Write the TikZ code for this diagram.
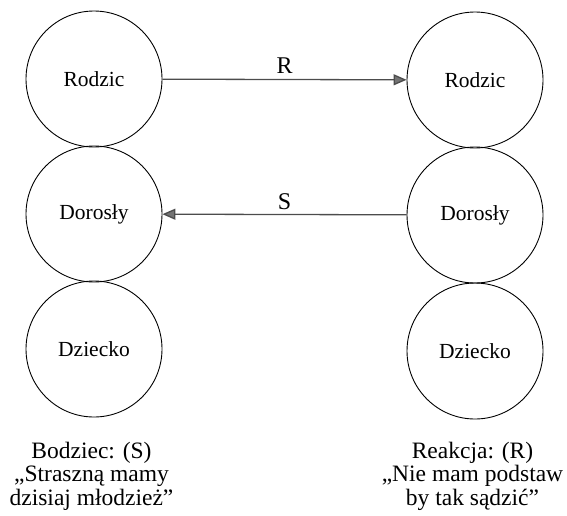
\documentclass[tikz,border=0pt]{standalone}
\usepackage{fontspec}
\setmainfont{Liberation Serif}
\usetikzlibrary{arrows.meta}
\begin{document}
\begin{tikzpicture}[x=1pt,y=-1pt,
  state/.style={circle,draw,line width=0.9pt,minimum size=136pt,inner sep=0pt,
    font=\fontsize{21.5}{24}\selectfont},
  link/.style={draw=black!70,line width=1.3pt,-{Triangle[length=13pt,width=11pt,fill=black!55]}},
  arrowlabel/.style={inner sep=0pt,font=\fontsize{24}{26}\selectfont},
  caption/.style={align=center,inner sep=0pt,font=\fontsize{23.5}{23.5}\selectfont}]
\useasboundingbox (0,0) rectangle (567,515);
% left column: ego states of the speaker
\node[state] (lp) at (94,79) {Rodzic};
\node[state] (la) at (94,214) {Dorosły};
\node[state] (lc) at (94,349) {Dziecko};
% right column: ego states of the listener
\node[state] (rp) at (475,80) {Rodzic};
\node[state] (ra) at (475,215) {Dorosły};
\node[state] (rc) at (475,351) {Dziecko};
% transactions
\draw[link] (lp) -- node[arrowlabel,above=5pt] {R} (rp);
\draw[link] (ra) -- node[arrowlabel,above=4pt] {S} (la);
% captions (anchored at the baseline of their last line)
\node[caption,anchor=base] (cs) at (91.5,505) {Bodziec: (S)\\„Straszną mamy\\dzisiaj młodzież”};
\node[caption,anchor=base] (cr) at (472.5,505) {Reakcja: (R)\\„Nie mam podstaw\\by tak sądzić”};
\end{tikzpicture}
\end{document}
